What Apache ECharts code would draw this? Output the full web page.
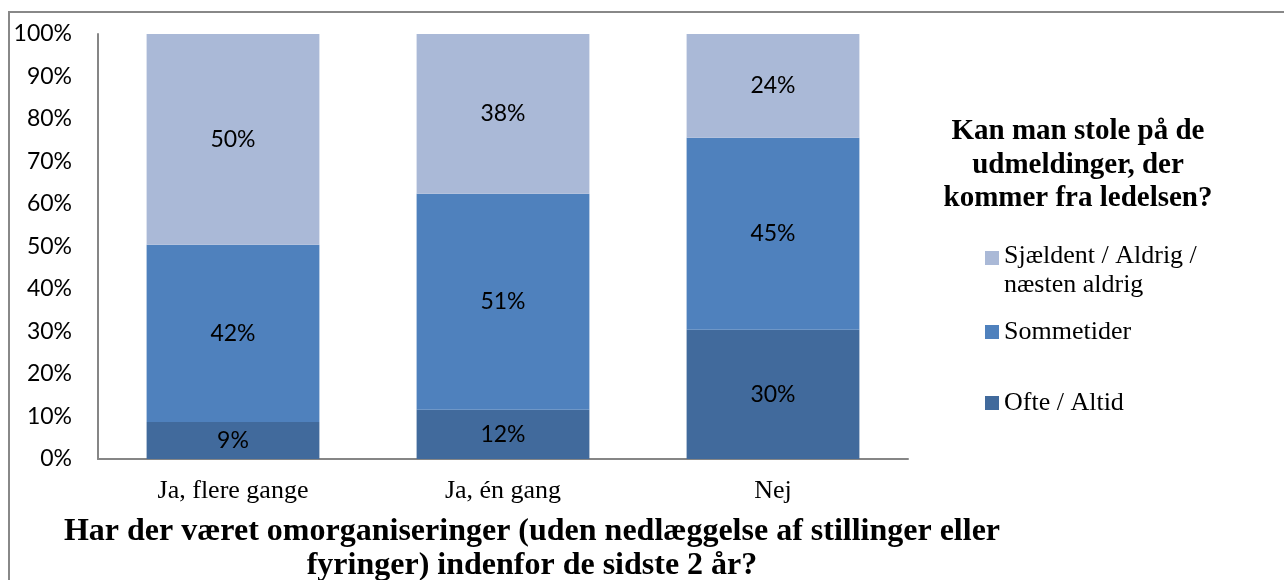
<!DOCTYPE html>
<html>
<head>
<meta charset="utf-8">
<script src="https://cdn.jsdelivr.net/npm/echarts@6/dist/echarts.min.js"></script>
<style>
  html, body { margin: 0; padding: 0; background: #fff; }
  #chart { width: 1284px; height: 580px; }
</style>
</head>
<body>
<div id="chart"></div>
<script>
	var categories = ['Ja, flere gange', 'Ja, én gang', 'Nej'];
	var ofte = [8.7, 11.6, 30.4];
	var sommetider = [41.7, 50.8, 45.2];
	var sjaeldent = [49.6, 37.6, 24.4];
	var yTicks = [0, 10, 20, 30, 40, 50, 60, 70, 80, 90, 100];

	var myChart = echarts.init(document.getElementById('chart'));

	var pctLabel = {
	    show: true,
	    position: 'inside',
	    color: '#000',
	    fontFamily: 'Lato',
	    fontSize: 23,
	    formatter: function (p) { return Math.round(p.value) + '%'; }
	};

	var legendText = {
	    color: '#000',
	    fontFamily: 'Liberation Serif',
	    fontSize: 26,
	    lineHeight: 28
	};

	var option = {
	    animation: false,
	    backgroundColor: '#fff',
	    title: [{
	        text: 'Har der været omorganiseringer (uden nedlæggelse af stillinger eller\nfyringer) indenfor de sidste 2 år?',
	        left: 532,
	        top: 515,
	        textAlign: 'center',
	        padding: 0,
	        textStyle: {
	            fontFamily: 'Liberation Serif',
	            fontWeight: 'bold',
	            fontSize: 32,
	            lineHeight: 34,
	            color: '#000'
	        }
	    }, {
	        text: 'Kan man stole på de\nudmeldinger, der\nkommer fra ledelsen?',
	        left: 1078,
	        top: 115,
	        textAlign: 'center',
	        padding: 0,
	        textStyle: {
	            fontFamily: 'Liberation Serif',
	            fontWeight: 'bold',
	            fontSize: 29,
	            lineHeight: 33.5,
	            color: '#000'
	        }
	    }],
	    legend: [{
	        data: ['Sjældent / Aldrig / næsten aldrig'],
	        left: 985, top: 216, padding: 0,
	        icon: 'rect',
	        itemWidth: 14, itemHeight: 14,
	        // empty first line keeps the square level with the first text line
	        formatter: function () { return '{e| }\n{a|Sjældent / Aldrig /}\n{a|næsten aldrig}'; },
	        textStyle: {
	            color: '#000',
	            rich: {
	                e: { fontSize: 26, lineHeight: 26, fontFamily: 'Liberation Serif' },
	                a: { fontSize: 26, lineHeight: 29, fontFamily: 'Liberation Serif', color: '#000' }
	            }
	        }
	    }, {
	        data: ['Sommetider'],
	        left: 985, top: 318, padding: 0,
	        icon: 'rect',
	        itemWidth: 14, itemHeight: 14,
	        textStyle: legendText
	    }, {
	        data: ['Ofte / Altid'],
	        left: 985, top: 389, padding: 0,
	        icon: 'rect',
	        itemWidth: 14, itemHeight: 14,
	        textStyle: legendText
	    }],
	    grid: {
	        left: 98,
	        right: 376,
	        top: 34,
	        bottom: 121,
	        containLabel: false
	    },
	    xAxis: {
	        type: 'category',
	        data: categories,
	        axisLine: { lineStyle: { color: '#868686', width: 2 } },
	        axisTick: { show: false },
	        axisLabel: {
	            color: '#000',
	            fontFamily: 'Liberation Serif',
	            fontSize: 26,
	            lineHeight: 30,
	            margin: 17
	        }
	    },
	    yAxis: {
	        type: 'value',
	        min: yTicks[0],
	        max: yTicks[yTicks.length - 1],
	        interval: 10,
	        axisLine: { show: true, lineStyle: { color: '#868686', width: 2 } },
	        axisTick: { show: false },
	        splitLine: { show: false },
	        axisLabel: {
	            color: '#000',
	            fontFamily: 'Lato',
	            fontSize: 23,
	            margin: 26,
	            formatter: '{value}%'
	        }
	    },
	    series: [
		{
		    name: 'Ofte / Altid',
		    type: 'bar',
		    stack: 'total',
		    barWidth: '64%',
		    itemStyle: { color: '#416A9C' },
		    label: pctLabel,
		    data: ofte
		},
		{
		    name: 'Sommetider',
		    type: 'bar',
		    stack: 'total',
		    barWidth: '64%',
		    itemStyle: { color: '#4F81BD' },
		    label: pctLabel,
		    data: sommetider
		},
		{
		    name: 'Sjældent / Aldrig / næsten aldrig',
		    type: 'bar',
		    stack: 'total',
		    barWidth: '64%',
		    itemStyle: { color: '#AAB9D7' },
		    label: pctLabel,
		    data: sjaeldent
		}
	    ],
	    graphic: [{
	        type: 'rect',
	        shape: { x: 9, y: 12, width: 1300, height: 600 },
	        style: { fill: 'none', stroke: '#888', lineWidth: 2 },
	        silent: true
	    }]
	};

	myChart.setOption(option);
</script>
</body>
</html>
